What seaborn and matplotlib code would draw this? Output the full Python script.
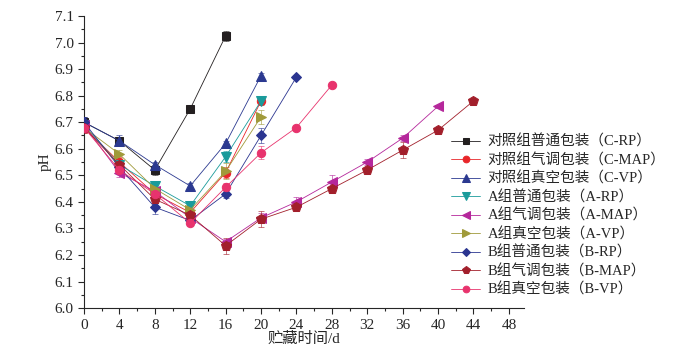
import matplotlib
matplotlib.use("Agg")
import matplotlib.pyplot as plt
import numpy as np
import pandas as pd
import seaborn as sns
from matplotlib.ticker import MultipleLocator

# storage days and pH per group
labels = [
    "对照组普通包装（C-RP）",
    "对照组气调包装（C-MAP）",
    "对照组真空包装（C-VP）",
    "A组普通包装（A-RP）",
    "A组气调包装（A-MAP）",
    "A组真空包装（A-VP）",
    "B组普通包装（B-RP）",
    "B组气调包装（B-MAP）",
    "B组真空包装（B-VP）",
]
days_c_rp = [0, 4, 8, 12, 16]
ph_c_rp = [6.70, 6.63, 6.52, 6.75, 7.025]
err_c_rp = [0.02, 0.015, 0.02, 0.005, 0.02]

days_c_map = [0, 4, 8, 12, 16, 20]
ph_c_map = [6.68, 6.55, 6.43, 6.36, 6.51, 6.78]
err_c_map = [0.02, 0.02, 0.015, 0.01, 0.02, 0.01]

days_c_vp = [0, 4, 8, 12, 16, 20]
ph_c_vp = [6.70, 6.63, 6.54, 6.46, 6.62, 6.875]
err_c_vp = [0.02, 0.02, 0.01, 0.01, 0.01, 0.01]

days_a_rp = [0, 4, 8, 12, 16, 20]
ph_a_rp = [6.69, 6.54, 6.46, 6.385, 6.57, 6.78]
err_a_rp = [0.02, 0.015, 0.015, 0.01, 0.02, 0.015]

days_a_map = [0, 4, 8, 12, 16, 20, 24, 28, 32, 36, 40]
ph_a_map = [6.69, 6.51, 6.44, 6.34, 6.25, 6.34, 6.40, 6.475, 6.55, 6.64, 6.76]
err_a_map = [0.02, 0.015, 0.015, 0.01, 0.01, 0.02, 0.02, 0.025, 0.01, 0.01, 0.005]

days_a_vp = [0, 4, 8, 12, 16, 20]
ph_a_vp = [6.68, 6.58, 6.45, 6.37, 6.515, 6.72]
err_a_vp = [0.02, 0.015, 0.02, 0.01, 0.03, 0.025]

days_b_rp = [0, 4, 8, 12, 16, 20, 24]
ph_b_rp = [6.70, 6.53, 6.38, 6.33, 6.43, 6.65, 6.87]
err_b_rp = [0.02, 0.015, 0.025, 0.01, 0.015, 0.03, 0.005]

days_b_map = [0, 4, 8, 12, 16, 20, 24, 28, 32, 36, 40, 44]
ph_b_map = [6.68, 6.54, 6.41, 6.35, 6.235, 6.335, 6.38, 6.45, 6.52, 6.595, 6.67, 6.78]
err_b_map = [0.02, 0.02, 0.015, 0.01, 0.03, 0.03, 0.01, 0.01, 0.005, 0.03, 0.005, 0.005]

days_b_vp = [0, 4, 8, 12, 16, 20, 24, 28]
ph_b_vp = [6.68, 6.52, 6.43, 6.32, 6.455, 6.585, 6.68, 6.84]
err_b_vp = [0.02, 0.015, 0.02, 0.01, 0.015, 0.025, 0.01, 0.005]

series = [
    (days_c_rp, ph_c_rp, err_c_rp, "#231f20", "s", 5.5),
    (days_c_map, ph_c_map, err_c_map, "#e8262a", "o", 6),
    (days_c_vp, ph_c_vp, err_c_vp, "#2b3990", "^", 6.5),
    (days_a_rp, ph_a_rp, err_a_rp, "#1a9b9b", "v", 6.5),
    (days_a_map, ph_a_map, err_a_map, "#b5279b", "<", 6.5),
    (days_a_vp, ph_a_vp, err_a_vp, "#a09a3a", ">", 6.5),
    (days_b_rp, ph_b_rp, err_b_rp, "#2b3590", "D", 5),
    (days_b_map, ph_b_map, err_b_map, "#a21f2b", "p", 7),
    (days_b_vp, ph_b_vp, err_b_vp, "#e8336d", "o", 6),
]

sns.set_style("ticks")
plt.rcParams["font.family"] = ["Liberation Serif", "Noto Sans CJK SC"]

fig = plt.figure(figsize=(6.8, 3.55), dpi=100)
ax = fig.add_axes([0.1235, 0.132, 0.647, 0.823])

for label, (d, y, e, color, marker, ms) in zip(labels, series):
    ax.errorbar(d, y, yerr=e, fmt="none", ecolor=color, elinewidth=0.7,
                capsize=2.5, capthick=0.7, alpha=0.6, zorder=2)
    df = pd.DataFrame({"day": d, "ph": y})
    sns.lineplot(data=df, x="day", y="ph", ax=ax, color=color, linewidth=0.6,
                 marker=marker, markersize=ms, markeredgecolor=color,
                 label=label, zorder=3)

ax.set_xlim(0, 49.7)
ax.set_ylim(6.0, 7.1)
ax.xaxis.set_major_locator(MultipleLocator(4))
ax.xaxis.set_minor_locator(MultipleLocator(2))
ax.yaxis.set_major_locator(MultipleLocator(0.1))
ax.yaxis.set_minor_locator(MultipleLocator(0.05))
ax.yaxis.set_major_formatter(matplotlib.ticker.FormatStrFormatter("%.1f"))
ax.tick_params(which="major", length=4, width=0.8, labelsize=11, direction="out")
ax.tick_params(which="minor", length=2, width=0.8, direction="out")
sns.despine(ax=ax)
ax.set_xlabel("贮藏时间/d", fontsize=11, labelpad=0)
ax.set_ylabel("pH", fontsize=11, labelpad=2)

ax.legend(loc="upper left", bbox_to_anchor=(0.655, 0.637), bbox_transform=fig.transFigure,
          frameon=False, fontsize=10.5, handlelength=2.0, handletextpad=0.5,
          labelspacing=0.3, borderaxespad=0, markerscale=0.8)

fig.savefig("out.png", dpi=100)
